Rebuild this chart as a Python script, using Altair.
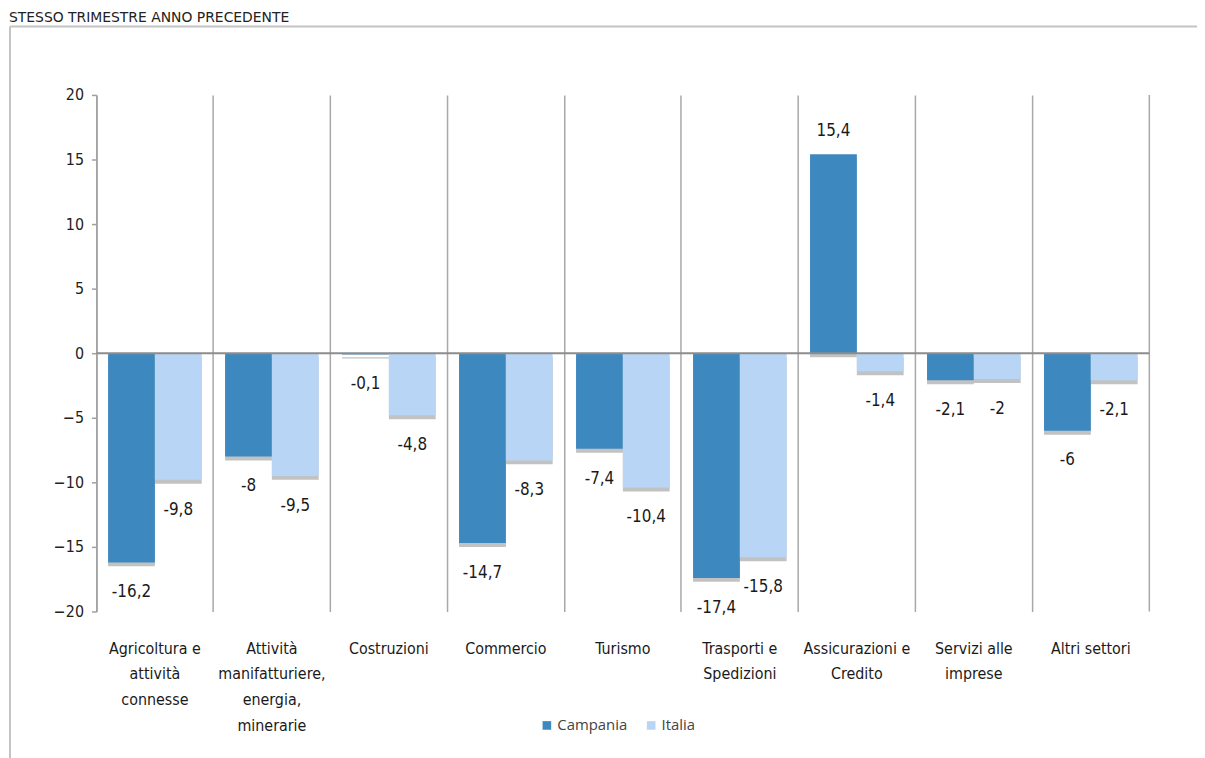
import altair as alt
import pandas as pd

# ---- data ----
categories = [
    "Agricoltura e|attività|connesse",
    "Attività|manifatturiere,|energia,|minerarie",
    "Costruzioni",
    "Commercio",
    "Turismo",
    "Trasporti e|Spedizioni",
    "Assicurazioni e|Credito",
    "Servizi alle|imprese",
    "Altri settori",
]
series = ["Campania", "Italia"]
campania = [-16.2, -8, -0.1, -14.7, -7.4, -17.4, 15.4, -2.1, -6]
italia = [-9.8, -9.5, -4.8, -8.3, -10.4, -15.8, -1.4, -2, -2.1]
y_ticks = [-20, -15, -10, -5, 0, 5, 10, 15, 20]
title_text = "STESSO TRIMESTRE ANNO PRECEDENTE"

colors = ["#3d88bf", "#b9d5f6"]
NARROW = "'Liberation Sans Narrow', 'DejaVu Sans Condensed', 'Liberation Sans', sans-serif"

rows = []
for name, vals in zip(series, [campania, italia]):
    for c, v in zip(categories, vals):
        rows.append({"cat": c, "serie": name, "value": v,
                     "label": f"{v:g}".replace(".", ",")})
df = pd.DataFrame(rows)
one = pd.DataFrame({"z": [0]})

W, H = 1060, 520

x_enc = alt.X(
    "cat:N", sort=categories,
    scale=alt.Scale(paddingInner=0, paddingOuter=0),
    axis=alt.Axis(
        title=None, orient="bottom", domain=False, ticks=False,
        grid=True, gridColor="#a8a8a8", gridWidth=1.5, bandPosition=0,
        labelAngle=0, labelExpr="split(datum.value, '|')",
        labelBaseline="top", labelPadding=29, labelLineHeight=26,
        labelFont=NARROW, labelFontSize=16, labelColor="#1a1a1a",
        labelLimit=200,
    ),
)
xo_enc = alt.XOffset("serie:N", sort=series,
                     scale=alt.Scale(paddingOuter=0.25, paddingInner=0))
y_scale = alt.Scale(domain=[-20, 20], nice=False)
y_enc = alt.Y(
    "value:Q", scale=y_scale,
    axis=alt.Axis(
        title=None, values=y_ticks, grid=False,
        domain=True, domainColor="#a0a0a0", domainWidth=1.5,
        ticks=True, tickSize=5, tickColor="#a0a0a0", tickWidth=1.5,
        labelFont=NARROW, labelFontSize=16, labelColor="#222", labelPadding=8,
    ),
)

base = alt.Chart(df).encode(x=x_enc, xOffset=xo_enc)

shadow = base.mark_bar(color="#8f8f8f", opacity=0.55, yOffset=4).encode(y=y_enc)

bars = base.mark_bar().encode(
    y=y_enc,
    color=alt.Color(
        "serie:N", sort=series,
        scale=alt.Scale(domain=series, range=colors),
        legend=alt.Legend(
            title=None, orient="none", legendX=446, legendY=627,
            direction="horizontal", symbolType="square", symbolSize=75,
            symbolStrokeWidth=0, labelFont="Open Sans", labelFontSize=15,
            labelColor="#444", columnPadding=16, labelOffset=3,
        ),
    ),
)

lab_neg = base.mark_text(dy=30, baseline="middle", font=NARROW, fontSize=17,
                         color="#1a1a1a").encode(
    y=alt.Y("value:Q", scale=y_scale), text="label:N"
).transform_filter("datum.value < 0")

lab_pos = base.mark_text(dy=-23, baseline="middle", font=NARROW, fontSize=17,
                         color="#1a1a1a").encode(
    y=alt.Y("value:Q", scale=y_scale), text="label:N"
).transform_filter("datum.value >= 0")

zero = alt.Chart(one).mark_rule(color="#8c8c8c", strokeWidth=2).encode(
    y=alt.Y("z:Q", scale=y_scale)
)

right_grid = alt.Chart(one).mark_rule(color="#a8a8a8", strokeWidth=1.5).encode(
    x=alt.value(W), y=alt.value(0), y2=alt.value(H)
)

frame_top = alt.Chart(one).mark_rule(color="#c4c4c4", strokeWidth=2).encode(
    x=alt.value(-87), x2=alt.value(1110), y=alt.value(-69)
)
frame_left = alt.Chart(one).mark_rule(color="#c4c4c4", strokeWidth=2).encode(
    x=alt.value(-87), y=alt.value(-69), y2=alt.value(670)
)

title = alt.Chart(one).mark_text(
    align="left", baseline="alphabetic", font="DejaVu Sans", fontSize=14,
    color="#222"
).encode(x=alt.value(-88), y=alt.value(-73), text=alt.value(title_text))

chart = alt.layer(
    frame_top, frame_left, title, right_grid, shadow, bars, zero, lab_neg, lab_pos
).properties(
    width=W, height=H,
    autosize=alt.AutoSizeParams(type="none"),
    padding={"left": 89, "top": 85, "right": 48, "bottom": 145},
).configure_view(stroke=None)

chart.save("out.html", embed_options={"renderer": "svg", "actions": False})
